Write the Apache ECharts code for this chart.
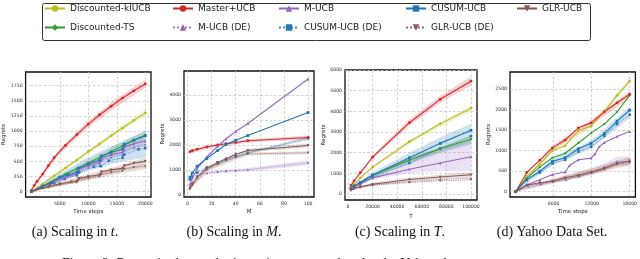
<!DOCTYPE html>
<html><head><meta charset="utf-8">
<script src="https://cdn.jsdelivr.net/npm/echarts@6/dist/echarts.min.js"></script>
<style>html,body{margin:0;padding:0;background:#fff}#c{width:640px;height:259px}</style>
</head><body><div id="c"></div>
<script>
// ---------- series names / legend ----------
const legendCols = [
  ['Discounted-klUCB', 'Discounted-TS'],
  ['Master+UCB', 'M-UCB (DE)'],
  ['M-UCB', 'CUSUM-UCB (DE)'],
  ['CUSUM-UCB', 'GLR-UCB (DE)'],
  ['GLR-UCB']
];

// ---------- (a) Scaling in t ----------
const aXTicks = [5000, 10000, 15000, 20000];
const aYTicks = [0, 250, 500, 750, 1000, 1250, 1500, 1750];
const aKl = [[0,0],[2000,130],[4000,262],[6000,390],[8000,522],[10000,660],[12000,790],[14000,922],[16000,1050],[18000,1178],[20000,1300]];
const aTs = [[0,0],[2000,95],[4000,190],[6000,290],[8000,380],[10000,475],[12000,565],[14000,665],[16000,755],[18000,850],[20000,935]];
const aMaster = [[0,20],[500,100],[1000,170],[2000,290],[3000,430],[4000,560],[6000,765],[8000,940],[10000,1115],[12000,1270],[14000,1410],[16000,1545],[18000,1665],[20000,1778]];
const aMucbDe = [[0,0],[2000,75],[4000,150],[6000,220],[8000,290],[8300,340],[10000,400],[12000,450],[12300,520],[14000,570],[16000,610],[16300,680],[18000,730],[20000,780]];
const aMucb = [[0,0],[2000,90],[4000,170],[6000,240],[8000,300],[8300,370],[10000,430],[12000,480],[12300,560],[14000,610],[16000,650],[16300,740],[18000,790],[20000,836]];
const aCusumDe = [[0,0],[2000,70],[4000,140],[5800,210],[8000,270],[8400,320],[11000,410],[12200,420],[13600,510],[16000,560],[16300,610],[18800,700],[20000,720]];
const aCusum = [[0,0],[2000,90],[3500,150],[5000,240],[6500,280],[8000,320],[8300,390],[10000,460],[12000,520],[12300,590],[14000,650],[16000,700],[16300,780],[18000,850],[20000,925]];
const aGlrDe = [[0,0],[2000,55],[3000,70],[3300,100],[5000,115],[8000,150],[8300,195],[10000,220],[12000,250],[12300,290],[14000,315],[16000,340],[16300,375],[18000,400],[20000,415]];
const aGlr = [[0,0],[2000,60],[3000,80],[3300,110],[5000,130],[7000,160],[8000,170],[8300,220],[10000,250],[12000,280],[12300,330],[14000,360],[16000,385],[16300,430],[18000,470],[20000,500]];
const aBandMaster = [[0,0,40],[2000,250,330],[5000,620,720],[10000,1060,1170],[15000,1400,1540],[20000,1710,1850]];
const aBandKl = [[0,0,10],[5000,300,350],[10000,625,690],[15000,950,1030],[20000,1250,1350]];
const aBandTs = [[0,0,10],[5000,200,270],[10000,420,520],[15000,640,770],[20000,870,1010]];
const aBandCusum = [[0,0,10],[5000,160,300],[10000,340,570],[15000,480,790],[20000,560,1000]];
const aBandMucb = [[0,0,10],[5000,190,250],[10000,390,470],[15000,580,700],[20000,780,890]];
const aBandGlr = [[0,0,10],[5000,100,160],[10000,210,290],[15000,330,420],[20000,440,560]];
const aBandGlrDe = [[0,0,10],[5000,90,145],[10000,190,260],[15000,290,370],[20000,370,460]];

// ---------- (b) Scaling in M ----------
const bXTicks = [0, 20, 40, 60, 80, 100];
const bYTicks = [0, 1000, 2000, 3000, 4000];
const bM = [2, 4, 8, 16, 25, 32, 40, 50, 100];
const bMaster = [1730, 1770, 1830, 1920, 2000, 2050, 2100, 2170, 2300];
const bMucbDe = [330, 520, 760, 880, 930, 960, 980, 1010, 1290];
const bMucb = [420, 680, 1050, 1520, 1950, 2250, 2540, 2860, 4640];
const bCusumDe = [620, 740, 900, 1100, 1300, 1430, 1550, 1680, 2270];
const bCusum = [700, 880, 1150, 1460, 1780, 2020, 2190, 2380, 3300];
const bGlrDe = [230, 380, 660, 1000, 1220, 1380, 1520, 1640, 1690];
const bGlr = [250, 420, 720, 1060, 1300, 1450, 1630, 1780, 1980];
const bBandMaster = [[2,1650,1810],[16,1850,1990],[50,2100,2240],[100,2220,2380]];
const bBandMucbDe = [[2,300,360],[16,830,930],[50,940,1080],[100,1180,1400]];
const bBandGlr = [[2,230,270],[16,1000,1110],[50,1710,1850],[100,1900,2060]];
const bBandGlrDe = [[2,210,250],[16,950,1050],[50,1580,1700],[100,1630,1750]];
const bBandCusumDe = [[2,590,650],[16,1060,1140],[50,1630,1730],[100,2200,2340]];

// ---------- (c) Scaling in T ----------
const cXTicks = [0, 20000, 40000, 60000, 80000, 100000];
const cYTicks = [0, 1000, 2000, 3000, 4000, 5000, 6000];
const cT = [2500, 5000, 10000, 20000, 50000, 75000, 100000];
const cKl = [320, 470, 780, 1300, 2530, 3400, 4150];
const cTs = [250, 380, 560, 900, 1650, 2200, 2650];
const cMaster = [420, 640, 1030, 1780, 3450, 4580, 5460];
const cMucbDe = [200, 270, 340, 450, 600, 700, 770];
const cMucb = [220, 330, 480, 780, 1200, 1500, 1800];
const cCusumDe = [240, 350, 500, 820, 1500, 2200, 2800];
const cCusum = [260, 400, 560, 920, 1750, 2450, 3080];
const cGlrDe = [190, 250, 320, 420, 560, 640, 690];
const cGlr = [210, 280, 350, 470, 700, 820, 930];
const cBandMaster = [[2500,380,460],[20000,1680,1880],[50000,3300,3600],[75000,4400,4760],[100000,5250,5680]];
const cBandKl = [[2500,300,340],[20000,1250,1350],[50000,2430,2630],[100000,4020,4280]];
const cBandCusum = [[2500,220,290],[20000,780,1050],[50000,1450,2000],[75000,2000,2750],[100000,2400,3400]];
const cBandTs = [[2500,230,270],[20000,850,950],[50000,1560,1740],[100000,2500,2800]];
const cBandMucb = [[2500,200,240],[20000,700,870],[50000,1000,1800],[75000,1100,2200],[100000,1100,2600]];
const cBandGlr = [[2500,190,230],[20000,400,540],[50000,600,800],[100000,800,1060]];

// ---------- (d) Yahoo Data Set ----------
const dXTicks = [6000, 12000, 18000];
const dYTicks = [0, 500, 1000, 1500, 2000, 2500];
const dX = [0, 1750, 3800, 5800, 7800, 9900, 11900, 14000, 16000, 18000];
const dKl = [0, 380, 670, 1000, 1120, 1500, 1600, 1960, 2350, 2700];
const dTs = [0, 330, 600, 830, 940, 1190, 1430, 1650, 1950, 2350];
const dMaster = [0, 470, 770, 1070, 1260, 1560, 1680, 1950, 2170, 2380];
const dCusumDe = [0, 280, 470, 690, 780, 980, 1100, 1360, 1650, 1880];
const dCusum = [0, 300, 500, 740, 830, 1050, 1180, 1420, 1720, 1990];
const dGlrDe = [0, 150, 200, 240, 310, 370, 450, 540, 660, 710];
const dGlr = [0, 160, 220, 260, 340, 400, 480, 570, 690, 750];
const dMucb = [[0,0],[1750,170],[3800,290],[5800,420],[7800,480],[8500,640],[9900,780],[11900,820],[12500,920],[13200,1100],[14000,1200],[16000,1350],[18000,1470]];
const dMucbDe = [[0,0],[2000,140],[4000,190],[6000,250],[8000,290],[10000,380],[12000,480],[14000,600],[16000,740],[18000,730]];
const dBandMaster = [[0,0,20],[5800,1000,1130],[11900,1610,1760],[18000,2290,2460]];
const dBandKl = [[0,0,20],[5800,970,1040],[11900,1560,1650],[18000,2650,2760]];
const dBandCusum = [[0,0,20],[5800,640,800],[11900,1050,1250],[18000,1800,2080]];
const dBandMucbDe = [[0,0,20],[6000,200,300],[12000,400,580],[14000,520,700],[16000,640,860],[18000,620,860]];
const dBandGlr = [[0,0,20],[5800,220,320],[11900,420,560],[18000,650,840]];

// ---------- styles ----------
const TRI_DOWN = 'path://M0,0L10,0L5,9Z';
const STYLE = {
  'Discounted-klUCB': {color:'#bcbd22', symbol:'circle'},
  'Discounted-TS': {color:'#2ca02c', symbol:'diamond'},
  'Master+UCB': {color:'#d62728', symbol:'circle'},
  'M-UCB (DE)': {color:'#9467bd', symbol:'triangle', de:true},
  'M-UCB': {color:'#9467bd', symbol:'triangle'},
  'CUSUM-UCB (DE)': {color:'#1f77b4', symbol:'rect', de:true},
  'CUSUM-UCB': {color:'#1f77b4', symbol:'rect'},
  'GLR-UCB (DE)': {color:'#8c564b', symbol:TRI_DOWN, de:true},
  'GLR-UCB': {color:'#8c564b', symbol:TRI_DOWN}
};
function hexA(hex, a) {
  const n = parseInt(hex.slice(1), 16);
  return `rgba(${(n>>16)&255},${(n>>8)&255},${n&255},${a})`;
}
function zip(xs, ys) { return xs.map((x, i) => [x, ys[i]]); }
function line(gi, name, data) {
  const st = STYLE[name];
  return {
    type:'line', name, xAxisIndex:gi, yAxisIndex:gi, data,
    symbol: st.symbol, symbolSize: st.de ? 2.6 : 2.8, showSymbol:true,
    lineStyle:{width: st.de ? 0.9 : 1.1, type: st.de ? 'dotted' : 'solid', color: st.color, opacity: st.de ? 0.85 : 1},
    itemStyle:{color: st.color},
    color: st.color, z: st.de ? 3 : 4, animation:false, silent:true
  };
}
function band(gi, name, pts, a) {
  const col = hexA(STYLE[name].color, a || 0.2);
  return {
    type:'custom', xAxisIndex:gi, yAxisIndex:gi, data: pts, encode:{x:0, y:[1,2]},
    silent:true, z:1, animation:false, clip:true,
    renderItem(params, api) {
      if (params.dataIndex !== 0) return null;
      const up = pts.map(p => api.coord([p[0], p[2]]));
      const lo = pts.map(p => api.coord([p[0], p[1]])).reverse();
      return {type:'polygon', shape:{points: up.concat(lo)}, style:{fill: col}};
    }
  };
}

// ---------- layout ----------
const grids = [
  {left:22, top:72, width:129, height:125},
  {left:184, top:71, width:130, height:126},
  {left:345, top:70, width:132, height:130},
  {left:510, top:72, width:128, height:125}
];
const xr = [[-1000, 21000], [-2.9, 104.9], [-2375, 104875], [-900, 18900]];
const yr = [[-88, 1975], [-80, 4960], [-290, 6000], [-129, 2922]];
const xTicks = [aXTicks, bXTicks, cXTicks, dXTicks];
const yTicks = [aYTicks, bYTicks, cYTicks, dYTicks];
const xNames = ['Time steps', 'M', 'T', 'Time steps'];
const yNameGap = [16, 15, 14, 17];

const tickFont = {fontSize:4.6, color:'#333', fontFamily:'DejaVu Sans', formatter: v => String(v)};
const splitL = {show:true, lineStyle:{color:'#c8c8c8', type:[2.5, 2], width:0.8}};
const xAxes = grids.map((g, i) => ({
  type:'value', gridIndex:i, min:xr[i][0], max:xr[i][1],
  name:xNames[i], nameLocation:'middle', nameGap:12,
  nameTextStyle:{fontSize:5.5, color:'#222', fontFamily:'DejaVu Sans'},
  axisLine:{show:false}, axisTick:{show:false, customValues:xTicks[i]},
  axisLabel:{show:true, customValues:xTicks[i], margin:4, ...tickFont},
  splitLine:splitL
}));
const yAxes = grids.map((g, i) => ({
  type:'value', gridIndex:i, min:yr[i][0], max:yr[i][1],
  name:'Regrets', nameLocation:'middle', nameGap:yNameGap[i], nameRotate:90,
  nameTextStyle:{fontSize:5.5, color:'#222', fontFamily:'DejaVu Sans'},
  axisLine:{show:false}, axisTick:{show:false, customValues:yTicks[i]},
  axisLabel:{show:true, customValues:yTicks[i], margin:3, ...tickFont},
  splitLine:splitL
}));

const series = [
  // (a)
  band(0,'Master+UCB',aBandMaster), band(0,'Discounted-klUCB',aBandKl), band(0,'Discounted-TS',aBandTs),
  band(0,'CUSUM-UCB',aBandCusum,0.22), band(0,'M-UCB',aBandMucb), band(0,'GLR-UCB',aBandGlr), band(0,'GLR-UCB (DE)',aBandGlrDe),
  line(0,'Discounted-klUCB',aKl), line(0,'Discounted-TS',aTs), line(0,'Master+UCB',aMaster),
  line(0,'M-UCB (DE)',aMucbDe), line(0,'M-UCB',aMucb), line(0,'CUSUM-UCB (DE)',aCusumDe),
  line(0,'CUSUM-UCB',aCusum), line(0,'GLR-UCB (DE)',aGlrDe), line(0,'GLR-UCB',aGlr),
  // (b)
  band(1,'Master+UCB',bBandMaster), band(1,'M-UCB (DE)',bBandMucbDe), band(1,'GLR-UCB',bBandGlr),
  band(1,'GLR-UCB (DE)',bBandGlrDe), band(1,'CUSUM-UCB (DE)',bBandCusumDe),
  line(1,'Master+UCB',zip(bM,bMaster)), line(1,'M-UCB (DE)',zip(bM,bMucbDe)), line(1,'M-UCB',zip(bM,bMucb)),
  line(1,'CUSUM-UCB (DE)',zip(bM,bCusumDe)), line(1,'CUSUM-UCB',zip(bM,bCusum)),
  line(1,'GLR-UCB (DE)',zip(bM,bGlrDe)), line(1,'GLR-UCB',zip(bM,bGlr)),
  // (c)
  band(2,'Master+UCB',cBandMaster), band(2,'Discounted-klUCB',cBandKl), band(2,'CUSUM-UCB',cBandCusum,0.22),
  band(2,'Discounted-TS',cBandTs), band(2,'M-UCB',cBandMucb,0.2), band(2,'GLR-UCB',cBandGlr),
  line(2,'Discounted-klUCB',zip(cT,cKl)), line(2,'Discounted-TS',zip(cT,cTs)), line(2,'Master+UCB',zip(cT,cMaster)),
  line(2,'M-UCB (DE)',zip(cT,cMucbDe)), line(2,'M-UCB',zip(cT,cMucb)), line(2,'CUSUM-UCB (DE)',zip(cT,cCusumDe)),
  line(2,'CUSUM-UCB',zip(cT,cCusum)), line(2,'GLR-UCB (DE)',zip(cT,cGlrDe)), line(2,'GLR-UCB',zip(cT,cGlr)),
  // (d)
  band(3,'Master+UCB',dBandMaster), band(3,'Discounted-klUCB',dBandKl), band(3,'CUSUM-UCB',dBandCusum,0.22),
  band(3,'M-UCB (DE)',dBandMucbDe), band(3,'GLR-UCB',dBandGlr,0.25),
  line(3,'Discounted-klUCB',zip(dX,dKl)), line(3,'Discounted-TS',zip(dX,dTs)), line(3,'Master+UCB',zip(dX,dMaster)),
  line(3,'M-UCB (DE)',dMucbDe), line(3,'M-UCB',dMucb), line(3,'CUSUM-UCB (DE)',zip(dX,dCusumDe)),
  line(3,'CUSUM-UCB',zip(dX,dCusum)), line(3,'GLR-UCB (DE)',zip(dX,dGlrDe)), line(3,'GLR-UCB',zip(dX,dGlr))
];

const legendLeft = [44, 172, 278, 405, 516];
const legends = legendCols.map((d, i) => ({
  data:d, orient:'vertical', left:legendLeft[i], top:4, padding:0,
  itemWidth:20, itemHeight:8, itemGap:10, selectedMode:false,
  textStyle:{fontSize:9, fontFamily:'DejaVu Sans', color:'#222'}
}));

const capStyle = {fontSize:14, fontFamily:'Liberation Serif', fill:'#111'};
const captions = [
  {x:75, t:'t', pre:'(a) Scaling in '},
  {x:234, t:'M', pre:'(b) Scaling in '},
  {x:400, t:'T', pre:'(c) Scaling in '}
];
const graphic = [
  {type:'rect', left:40, top:1, shape:{width:548, height:37, r:2}, style:{fill:'none', stroke:'#333', lineWidth:1}, silent:true},
  ...captions.map(c => ({
    type:'text', x:c.x, y:232, silent:true,
    style:{text:`{n|${c.pre}}{i|${c.t}}{n|.}`, align:'center', verticalAlign:'middle',
      rich:{n:{...capStyle}, i:{...capStyle, fontStyle:'italic'}}}
  })),
  {type:'text', x:552, y:232, silent:true, style:{text:'(d) Yahoo Data Set.', align:'center', verticalAlign:'middle', ...capStyle}},
  {type:'text', x:62, y:257, silent:true, style:{text:'Figure 2: Regret in the synthetic environment and under the Yahoo data set.', align:'left', verticalAlign:'top', ...capStyle}}
];

const chart = echarts.init(document.getElementById('c'), null, {renderer:'canvas'});
chart.setOption({
  animation:false,
  backgroundColor:'#fff',
  grid: grids.map(g => ({...g, show:true, borderColor:'#111', borderWidth:1.3, backgroundColor:'transparent'})),
  xAxis: xAxes, yAxis: yAxes,
  legend: legends,
  series, graphic
});
</script>
</body></html>
